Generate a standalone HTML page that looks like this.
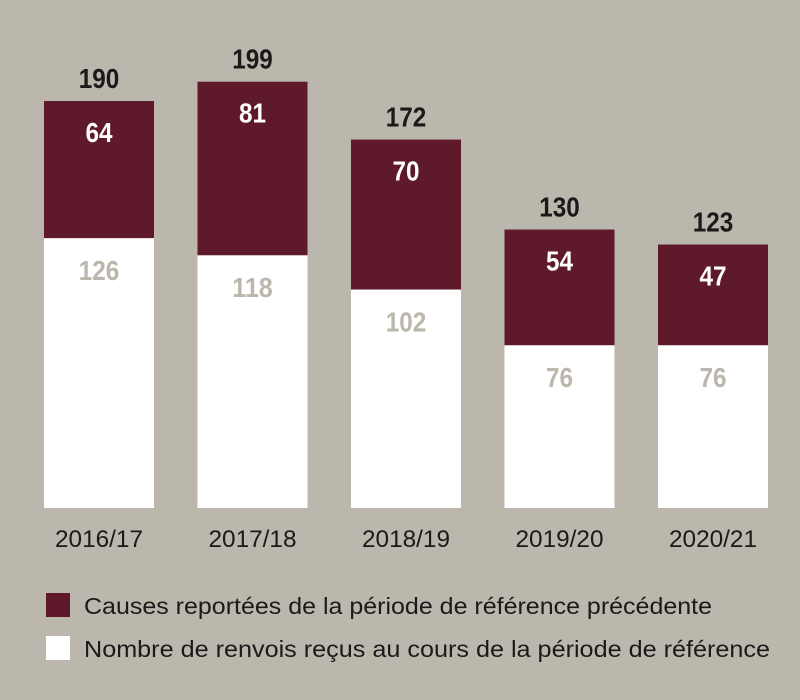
<!DOCTYPE html>
<html><head><meta charset="utf-8"><style>
body{margin:0;background:#bcb7ac;}
svg{display:block;font-family:"Liberation Sans",sans-serif;}
</style></head><body>
<svg width="800" height="700">
<rect width="800" height="700" fill="#bcb7ac"/>
<g id="bars"></g>
<rect x="46" y="593" width="24" height="24" fill="#5e1a2b"/>
<text x="84" y="614" font-size="23" fill="#1a1a1a" textLength="628" lengthAdjust="spacingAndGlyphs">Causes reportées de la période de référence précédente</text>
<rect x="46" y="636" width="24" height="24" fill="#ffffff"/>
<text x="84" y="657" font-size="23" fill="#1a1a1a" textLength="686" lengthAdjust="spacingAndGlyphs">Nombre de renvois reçus au cours de la période de référence</text>
</svg>
<script>
const categories=["2016/17","2017/18","2018/19","2019/20","2020/21"];
const received=[126,118,102,76,76];
const carried=[64,81,70,54,47];
const NS="http://www.w3.org/2000/svg";
const base=508, k=2.142, x0=44, step=153.5, bw=110;
const y=v=>base-v*k;
const g=document.getElementById('bars');
function mk(tag,attrs){const e=document.createElementNS(NS,tag);for(const a in attrs)e.setAttribute(a,attrs[a]);g.appendChild(e);return e;}
function txt(x,yy,s,fill,size,w,bold){const t=mk('text',{x:x,y:yy,'text-anchor':'middle','font-size':size,fill:fill,'font-weight':bold?'bold':'normal',textLength:w,lengthAdjust:'spacingAndGlyphs'});t.textContent=s;return t;}
categories.forEach((c,i)=>{
  const x=x0+i*step, tot=received[i]+carried[i];
  const r=mk('rect',{x:x,y:y(received[i]),width:bw,height:received[i]*k,fill:'#ffffff'});
  
  
  const m=mk('rect',{x:x,y:y(tot),width:bw,height:carried[i]*k,fill:'#5e1a2b'});
  
  
  const cx=x+bw/2;
  const t1=txt(cx,y(tot)-13,String(tot),'#1a1a1a',28,String(tot).length*13.5,true);
  
  
  const t2=txt(cx,y(tot)+41,String(carried[i]),'#ffffff',28,String(carried[i]).length*13.5,true);
  
  
  const t3=txt(cx,y(received[i])+42,String(received[i]),'#bcb7ac',28,String(received[i]).length*13.5,true);
  
  
  const t4=txt(cx,547,c,'#1a1a1a',24,88,false);
  
  
});
</script>
</body></html>
